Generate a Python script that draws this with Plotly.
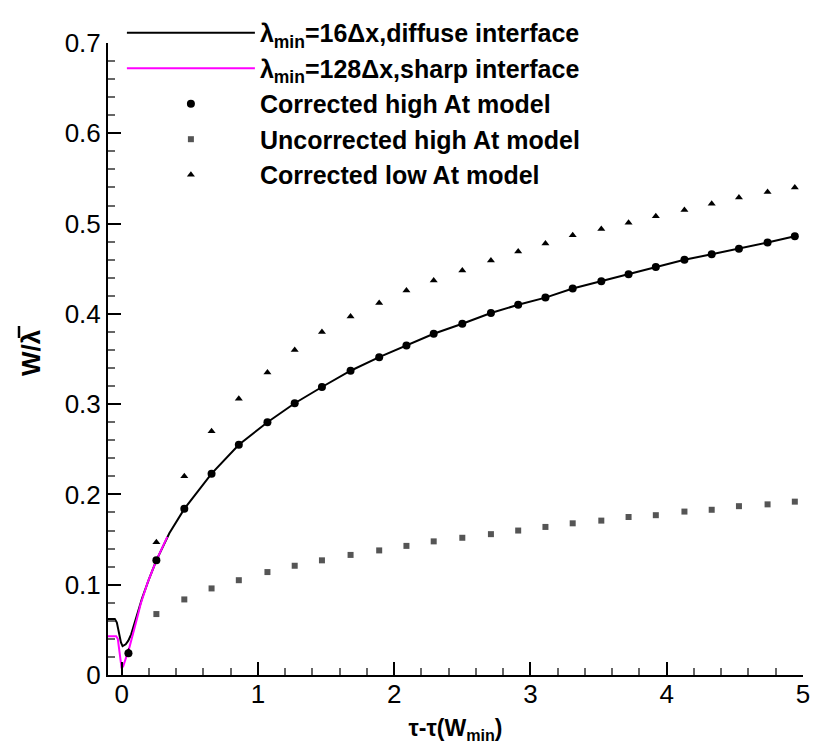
import plotly.graph_objects as go

# ---- data ----
black_x = [-0.10, -0.05, -0.035, -0.02, -0.005, 0.007, 0.03, 0.049, 0.07, 0.09, 0.11, 0.15, 0.20, 0.255,
           0.35, 0.46, 0.66, 0.86, 1.07, 1.27, 1.47, 1.68, 1.89, 2.09, 2.29, 2.50, 2.71, 2.91,
           3.11, 3.31, 3.52, 3.72, 3.92, 4.13, 4.33, 4.53, 4.74, 4.94]
black_y = [0.062, 0.062, 0.058, 0.046, 0.036, 0.032, 0.034, 0.038, 0.045, 0.055, 0.065, 0.085, 0.106, 0.127,
           0.157, 0.184, 0.223, 0.255, 0.280, 0.301, 0.319, 0.337, 0.352, 0.365, 0.378, 0.389, 0.401, 0.410,
           0.418, 0.428, 0.436, 0.444, 0.452, 0.460, 0.466, 0.472, 0.479, 0.486]

magenta_x = [-0.10, -0.04, -0.028, -0.018, -0.008, 0.0, 0.012, 0.024, 0.04, 0.056, 0.07, 0.085, 0.11,
             0.14, 0.19, 0.255, 0.30, 0.335]
magenta_y = [0.043, 0.043, 0.040, 0.028, 0.014, 0.0074, 0.010, 0.015, 0.022, 0.030, 0.038, 0.046, 0.061,
             0.079, 0.102, 0.127, 0.142, 0.153]

model_x = [0.05, 0.255, 0.46, 0.66, 0.86, 1.07, 1.27, 1.47, 1.68, 1.89, 2.09, 2.29, 2.50, 2.71, 2.91,
           3.11, 3.31, 3.52, 3.72, 3.92, 4.13, 4.33, 4.53, 4.74, 4.94]
corr_high = [0.024, 0.127, 0.184, 0.223, 0.255, 0.280, 0.301, 0.319, 0.337, 0.352, 0.365, 0.378, 0.389,
             0.401, 0.410, 0.418, 0.428, 0.436, 0.444, 0.452, 0.460, 0.466, 0.472, 0.479, 0.486]
corr_low = [0.026, 0.147, 0.220, 0.270, 0.306, 0.335, 0.360, 0.380, 0.397, 0.412, 0.426, 0.437, 0.448,
            0.459, 0.469, 0.478, 0.487, 0.494, 0.501, 0.508, 0.515, 0.522, 0.529, 0.535, 0.540]

uncorr_x = model_x[1:]
uncorr_high = [0.0675, 0.0837, 0.0959, 0.105, 0.114, 0.121, 0.127, 0.133, 0.138, 0.143, 0.148, 0.152,
               0.156, 0.160, 0.164, 0.168, 0.171, 0.175, 0.177, 0.181, 0.183, 0.187, 0.189, 0.192]

x_ticks = [0, 1, 2, 3, 4, 5]
y_ticks = [0, 0.1, 0.2, 0.3, 0.4, 0.5, 0.6, 0.7]
y_ticktext = ["0", "0.1", "0.2", "0.3", "0.4", "0.5", "0.6", "0.7"]

names = ["<b>λ<sub>min</sub>=16Δx,diffuse interface</b>",
         "<b>λ<sub>min</sub>=128Δx,sharp interface</b>",
         "<b>Corrected high At model</b>",
         "<b>Uncorrected high At model</b>",
         "<b>Corrected low At model</b>"]
x_title = "<b>τ-τ(W<sub>min</sub>)</b>"
y_title = "<b>W/λ</b>"

FONT = "Liberation Sans, Arial, sans-serif"

# plot-area geometry (px) used to place the rotated y title
L, R, T, B, W, H = 108, 30, 43, 79, 833, 754
PW, PH = W - L - R, H - T - B


def px_to_paper(px, py):
    return (px - L) / PW, (H - B - py) / PH


fig = go.Figure()
fig.add_trace(go.Scatter(x=black_x, y=black_y, mode="lines", name=names[0],
                         line=dict(color="black", width=2)))
fig.add_trace(go.Scatter(x=magenta_x, y=magenta_y, mode="lines", name=names[1],
                         line=dict(color="#ff00ff", width=2)))
fig.add_trace(go.Scatter(x=model_x, y=corr_high, mode="markers", name=names[2],
                         marker=dict(symbol="circle", size=8, color="black")))
fig.add_trace(go.Scatter(x=uncorr_x, y=uncorr_high, mode="markers", name=names[3],
                         marker=dict(symbol="square", size=6, color="#555555")))
fig.add_trace(go.Scatter(x=model_x, y=corr_low, mode="markers", name=names[4],
                         marker=dict(symbol="triangle-up", size=7, color="black")))

# rotated y-axis title with an overbar on lambda
tx, ty = px_to_paper(31, 353)
fig.add_annotation(text=y_title, xref="paper", yref="paper", x=tx, y=ty, textangle=-90,
                   showarrow=False, xanchor="center", yanchor="middle",
                   font=dict(size=26, family=FONT, color="black"))
bx0, by0 = px_to_paper(19, 326)
bx1, by1 = px_to_paper(19, 338)
fig.add_shape(type="line", xref="paper", yref="paper", x0=bx0, y0=by0, x1=bx1, y1=by1,
              line=dict(color="black", width=2.5), layer="above")

fig.update_layout(
    width=W, height=H,
    margin=dict(l=L, r=R, t=T, b=B, autoexpand=False),
    paper_bgcolor="white", plot_bgcolor="white",
    font=dict(family=FONT, size=26, color="black"),
    showlegend=True,
    legend=dict(x=0.02, y=1.0523, xanchor="left", yanchor="top",
                bgcolor="rgba(0,0,0,0)", font=dict(size=25, family=FONT),
                itemwidth=128, tracegroupgap=0),
    xaxis=dict(range=[-0.1, 5], tickvals=x_ticks, showline=True, linecolor="black", linewidth=2,
               showgrid=False, zeroline=False, ticks="inside", ticklen=13, tickwidth=2,
               tickcolor="black", tickfont=dict(size=26, family=FONT), ticklabelstandoff=-5,
               minor=dict(dtick=0.2, ticks="inside", ticklen=7, tickwidth=1.5, tickcolor="#666666",
                          showgrid=False),
               title=dict(text=x_title, font=dict(size=23, family=FONT), standoff=12)),
    yaxis=dict(range=[0, 0.7], tickvals=y_ticks, ticktext=y_ticktext, showline=True,
               linecolor="black", linewidth=2, showgrid=False, zeroline=False, ticks="inside",
               ticklen=13, tickwidth=2, tickcolor="black", tickfont=dict(size=26, family=FONT),
               minor=dict(dtick=0.02, ticks="inside", ticklen=7, tickwidth=1.5, tickcolor="#666666",
                          showgrid=False)),
)

fig.write_html("out.html")
